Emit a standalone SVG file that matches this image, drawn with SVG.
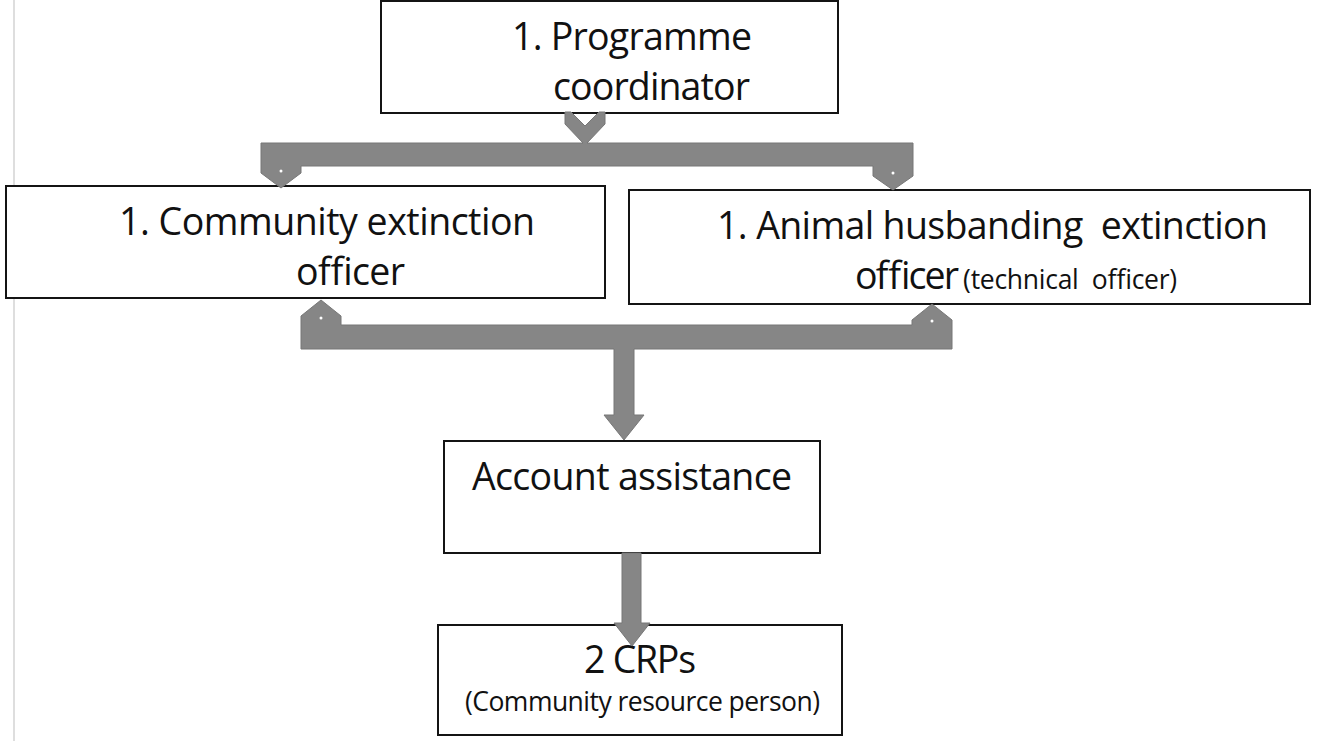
<svg xmlns="http://www.w3.org/2000/svg" width="1327" height="741" viewBox="0 0 1327 741">
  <style>
    .box { fill: #ffffff; stroke: #141414; stroke-width: 2; }
    .lbl { font-family: "Open Sans", "Noto Sans", "Liberation Sans", sans-serif; font-size: 37.5px; fill: #111111; white-space: pre; }
    .sm { font-size: 26.5px; }
    .conn { fill: #868686; stroke: #777777; stroke-width: 1; stroke-linejoin: miter; }
    .dot { fill: #ffffff; }
  </style>

  <rect x="0" y="0" width="1327" height="741" fill="#ffffff"/>
  <!-- page margin line -->
  <line x1="14" y1="0" x2="14" y2="741" stroke="#dedede" stroke-width="2"/>

  <g id="node-coordinator">
    <rect class="box" x="381" y="1" width="457" height="112"/>
    <text class="lbl" x="512" y="50" textLength="240">1. Programme</text>
    <text class="lbl" x="553" y="100" textLength="197">coordinator</text>
  </g>

  <g id="node-community-officer">
    <rect class="box" x="6" y="186" width="599" height="112"/>
    <text class="lbl" x="119" y="235" textLength="416">1. Community extinction</text>
    <text class="lbl" x="296" y="285" textLength="109">officer</text>
  </g>

  <g id="node-animal-officer">
    <rect class="box" x="629" y="190" width="681" height="114"/>
    <text class="lbl" xml:space="preserve" x="717" y="239" textLength="551">1. Animal husbanding  extinction</text>
    <text class="lbl" xml:space="preserve" x="855" y="289"><tspan textLength="104">officer</tspan><tspan class="sm" dx="6" textLength="214">(technical  officer)</tspan></text>
  </g>

  <g id="node-account">
    <rect class="box" x="444" y="441" width="376" height="112"/>
    <text class="lbl" x="472" y="490" textLength="320">Account assistance</text>
  </g>

  <g id="node-crps">
    <rect class="box" x="438" y="625" width="404" height="110"/>
    <text class="lbl" x="584" y="673" textLength="112">2 CRPs</text>
    <text class="lbl sm" x="465" y="711" textLength="355">(Community resource person)</text>
  </g>

  <g id="connectors">
    <!-- coordinator splits down to both officers -->
    <path class="conn" d="M565,112 L571,112 L585,126 L599,112 L605,112 L605,124 L587,143 L913,143 L913,176 L893,190 L873,176 L873,166 L301,166 L301,173 L281,188 L261,173 L261,143 L583,143 L565,124 Z"/>
    <circle class="dot" cx="281" cy="171" r="1.5"/>
    <circle class="dot" cx="893" cy="173" r="1.5"/>
    <!-- both officers join down to account assistance -->
    <path class="conn" d="M301,325 L301,316 L321,300 L341,316 L341,325 L912,325 L912,320 L932,304 L952,320 L952,349 L634,349 L634,415 L644,415 L624,440 L604,415 L614,415 L614,349 L301,349 Z"/>
    <circle class="dot" cx="321" cy="318" r="1.5"/>
    <circle class="dot" cx="932" cy="321" r="1.5"/>
    <!-- account assistance down to CRPs -->
    <path class="conn" d="M622,553 L641,553 L641,623 L650,623 L632,646 L614,623 L622,623 Z"/>
  </g>
</svg>
